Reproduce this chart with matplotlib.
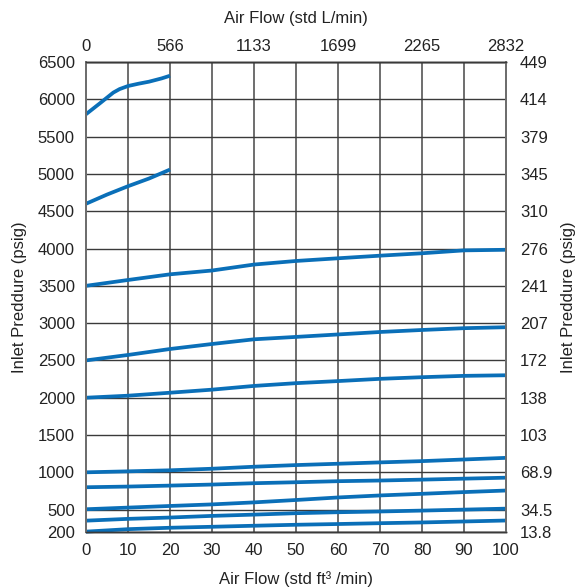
"""
Inlet pressure vs air flow chart
"""
import numpy as np
import matplotlib
matplotlib.use('Agg')
import matplotlib.pyplot as plt

plt.rcParams['font.family'] = ['Liberation Sans', 'DejaVu Sans']

# curve data, x in std ft3/min, y in psig
flow_short = [0, 3.3, 6.5, 8, 10, 12.5, 15, 18, 20]
press_6000 = [5800, 5946, 6090, 6137, 6178, 6209, 6236, 6280, 6316]
flow_short2 = [0, 5, 10, 15, 20]
press_5000 = [4600, 4723, 4835, 4938, 5058]

flow = [0, 10, 20, 30, 40, 50, 60, 70, 80, 90, 100]
press_4000 = [3500, 3578, 3654, 3705, 3785, 3833, 3869, 3904, 3936, 3975, 3983]
press_3000 = [2500, 2573, 2653, 2720, 2783, 2815, 2848, 2881, 2908, 2932, 2945]
press_2300 = [2000, 2027, 2067, 2108, 2158, 2195, 2223, 2253, 2275, 2293, 2301]
press_1200 = [1000, 1013, 1027, 1048, 1075, 1097, 1115, 1133, 1150, 1172, 1194]
press_900 = [800, 809, 822, 836, 854, 867, 881, 890, 902, 915, 928]
press_750 = [505, 527, 549, 570, 597, 629, 663, 690, 712, 735, 756]
press_500 = [352, 376, 394, 416, 433, 452, 465, 475, 487, 500, 513]
press_350 = [205, 238, 257, 270, 284, 297, 307, 318, 328, 341, 354]

# axis ticks and secondary labels
x_ticks = [0, 10, 20, 30, 40, 50, 60, 70, 80, 90, 100]
top_ticks = [0, 20, 40, 60, 80, 100]
top_labels = ['0', '566', '1133', '1699', '2265', '2832']
y_ticks = [200, 500, 1000, 1500, 2000, 2500, 3000, 3500, 4000, 4500, 5000, 5500, 6000, 6500]
right_labels = ['13.8', '34.5', '68.9', '103', '138', '172', '207', '241', '276',
                '310', '345', '379', '414', '449']

line_color = '#0a6fb8'
text_color = '#222222'
fs = 12

fig = plt.figure(figsize=(5.76, 5.88), dpi=100)
ax = fig.add_axes([86 / 576, 56 / 588, 420 / 576, 470 / 588])

# grid
for xv in x_ticks:
    ax.axvline(xv, color='#6e6e6e', linewidth=1.4, zorder=1)
for yv in y_ticks:
    ax.axhline(yv, color='#3a3a3a', linewidth=1.0, zorder=1)

# curves
curves = [
    (flow_short, press_6000), (flow_short2, press_5000),
    (flow, press_4000), (flow, press_3000), (flow, press_2300),
    (flow, press_1200), (flow, press_900), (flow, press_750),
    (flow, press_500), (flow, press_350),
]
for xs, ys in curves:
    ax.plot(xs, ys, color=line_color, linewidth=2.7, solid_capstyle='butt',
            solid_joinstyle='round', zorder=3, clip_on=False)

ax.set_xlim(0, 100)
ax.set_ylim(200, 6500)
ax.set_xticks(x_ticks)
ax.set_yticks(y_ticks)
ax.set_yticklabels([str(v) for v in y_ticks])
ax.tick_params(length=0, labelsize=fs, labelcolor=text_color)
ax.tick_params(axis='x', pad=8)
ax.tick_params(axis='y', pad=8)
ax.set_xlabel('Air Flow (std ft³ /min)', fontsize=fs, color=text_color, labelpad=9)
ax.set_ylabel('Inlet Preddure (psig)', fontsize=fs, color=text_color, labelpad=8)

# top axis in std L/min
ax_top = ax.twiny()
ax_top.set_xlim(0, 100)
ax_top.set_xticks(top_ticks)
ax_top.set_xticklabels(top_labels)
ax_top.tick_params(length=0, labelsize=fs, labelcolor=text_color, pad=6)
ax_top.set_xlabel('Air Flow (std L/min)', fontsize=fs, color=text_color, labelpad=11)

# right axis in bar
ax_right = ax.twinx()
ax_right.set_ylim(200, 6500)
ax_right.set_yticks(y_ticks)
ax_right.set_yticklabels(right_labels)
ax_right.tick_params(length=0, labelsize=fs, labelcolor=text_color, pad=10)
ax_right.set_ylabel('Inlet Preddure (psig)', fontsize=fs, color=text_color, labelpad=6)

for a in (ax, ax_top, ax_right):
    for side in ['top', 'bottom']:
        a.spines[side].set_color('#3a3a3a')
        a.spines[side].set_linewidth(1.0)
    for side in ['left', 'right']:
        a.spines[side].set_color('#6e6e6e')
        a.spines[side].set_linewidth(1.4)

plt.savefig('out.png', dpi=100)
